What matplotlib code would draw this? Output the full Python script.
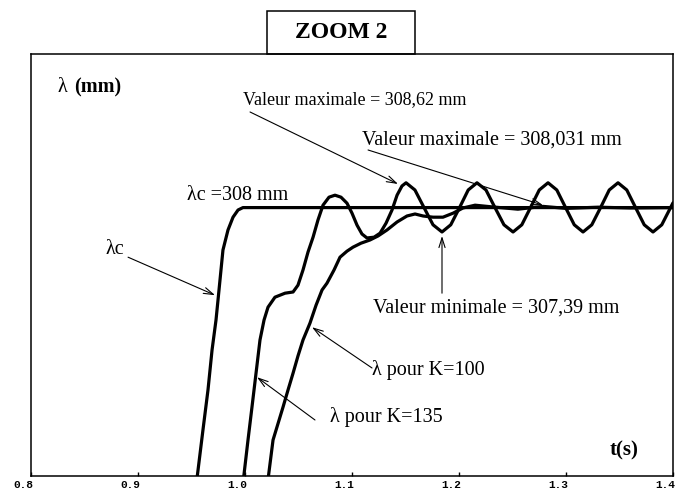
import matplotlib
matplotlib.use("Agg")
import matplotlib.pyplot as plt
import matplotlib.transforms as mtransforms
from matplotlib.patches import Rectangle

# consigne lambda_c
t_c = [0.955, 0.9607, 0.9654, 0.9692, 0.9729, 0.9757, 0.9794, 0.9841, 0.9888, 0.9935, 0.9981, 1.40]
lam_c = [301.2, 302.44, 303.44, 304.44, 305.19, 305.94, 306.94, 307.44, 307.76, 307.94, 308.0, 308.0]

# reponse pour K=135 (oscillante)
t_135 = [0.9985, 1.0028, 1.0065, 1.0103, 1.0140, 1.0178, 1.0215, 1.0280, 1.0374, 1.0449,
         1.0495, 1.0542, 1.0589, 1.0636, 1.0682, 1.0729, 1.0785, 1.0841, 1.0897, 1.0953,
         1.1000, 1.1047, 1.1093, 1.1140, 1.1206, 1.1262, 1.1318, 1.1374, 1.1421, 1.1467,
         1.1505, 1.1588, 1.1673, 1.1757, 1.1841, 1.1923, 1.2005, 1.2086, 1.2168, 1.2252,
         1.2336, 1.2420, 1.2505, 1.2587, 1.2668, 1.2750, 1.2832, 1.2914, 1.2996, 1.3077,
         1.3159, 1.3241, 1.3323, 1.3404, 1.3486, 1.3568, 1.3650, 1.3731, 1.3813, 1.3895,
         1.3977, 1.4000]
lam_135 = [301.2, 302.19, 303.01, 303.86, 304.69, 305.19, 305.51, 305.76, 305.86, 305.89,
           306.06, 306.44, 306.89, 307.26, 307.69, 308.06, 308.26, 308.31, 308.26, 308.11,
           307.86, 307.56, 307.34, 307.24, 307.26, 307.36, 307.61, 307.94, 308.31, 308.54,
           308.62, 308.44, 308.00, 307.57, 307.39, 307.57, 308.00, 308.44, 308.62, 308.44,
           308.00, 307.57, 307.39, 307.57, 308.00, 308.44, 308.62, 308.44, 308.00, 307.57,
           307.39, 307.57, 308.00, 308.44, 308.62, 308.44, 308.00, 307.57, 307.39, 307.57,
           308.00, 308.12]

# reponse pour K=100
t_100 = [1.0215, 1.0262, 1.0355, 1.0402, 1.0449, 1.0495, 1.0542, 1.0607, 1.0664, 1.0720,
         1.0766, 1.0832, 1.0888, 1.0953, 1.1009, 1.1084, 1.1168, 1.1243, 1.1327, 1.1421,
         1.1514, 1.1589, 1.1664, 1.1757, 1.1850, 1.1944, 1.2037, 1.2150, 1.2300, 1.2550,
         1.2785, 1.3000, 1.3300, 1.3600, 1.4000]
lam_100 = [301.2, 302.19, 303.01, 303.44, 303.86, 304.29, 304.69, 305.11, 305.56, 305.94,
           306.11, 306.44, 306.76, 306.91, 307.01, 307.11, 307.19, 307.29, 307.44, 307.64,
           307.79, 307.84, 307.79, 307.76, 307.76, 307.86, 307.99, 308.06, 308.02, 307.96,
           308.03, 307.98, 308.01, 307.99, 308.00]

xticks = [0.8, 0.9, 1.0, 1.1, 1.2, 1.3, 1.4]

serif = "Liberation Serif"

fig = plt.figure(figsize=(6.89, 4.93), dpi=100)
ax = fig.add_axes([0.045, 0.0345, 0.9318, 0.856])

for t, lam in [(t_c, lam_c), (t_135, lam_135), (t_100, lam_100)]:
    ax.plot(t, lam, color="black", linewidth=2.3, solid_joinstyle="round", solid_capstyle="round")

ax.set_xlim(0.8, 1.4)
ax.set_ylim(301.29, 311.84)
ax.set_yticks([])
ax.set_xticks(xticks)
ax.set_xticklabels([f"{v:.1f}" for v in xticks], family="Liberation Mono", fontweight="bold", fontsize=8)
ax.tick_params(axis="x", direction="in", length=3, width=1, pad=3)
shift = mtransforms.ScaledTranslation(-8 / 100, 0, fig.dpi_scale_trans)
for lbl in ax.get_xticklabels():
    lbl.set_transform(lbl.get_transform() + shift)
for sp in ax.spines.values():
    sp.set_linewidth(1.1)

# boite de titre
fig.patches.append(Rectangle((0.3875, 0.8905), 0.2148, 0.0872, transform=fig.transFigure,
                             fill=False, edgecolor="black", linewidth=1.1))
fig.text(0.495, 0.935, "ZOOM 2", family=serif, fontweight="bold", fontsize=17, ha="center", va="center")

# axes labels
ax.text(0.8243, 310.99, "λ", family=serif, fontsize=14.5, va="center")
ax.text(0.8400, 310.99, "(mm)", family=serif, fontweight="bold", fontsize=14.5, va="center")
ax.text(1.3411, 301.94, "t(s)", family=serif, fontweight="bold", fontsize=15, va="center")

arrow = dict(arrowstyle="->,head_length=0.7,head_width=0.22", color="black", linewidth=0.8,
             shrinkA=0, shrinkB=0)

notes = [
    ("Valeur maximale = 308,62 mm", (0.9981, 310.69), 13, (1.0047, 310.39), (1.1430, 308.59)),
    ("Valeur maximale = 308,031 mm", (1.1093, 309.69), 14.5, (1.1150, 309.44), (1.2785, 308.06)),
    ("Valeur minimale = 307,39 mm", (1.1196, 305.49), 14.5, (1.1841, 305.86), (1.1841, 307.29)),
    ("λ pour K=100", (1.1187, 303.94), 14.5, (1.1187, 303.99), (1.0626, 305.01)),
    ("λ pour K=135", (1.0794, 302.76), 14.5, (1.0654, 302.69), (1.0112, 303.76)),
    ("λc", (0.8692, 306.94), 14.5, (0.8907, 306.76), (0.9720, 305.81)),
]
for txt, pos, fs, tail, tip in notes:
    ax.text(pos[0], pos[1], txt, family=serif, fontsize=fs, va="center")
    ax.annotate("", xy=tip, xytext=tail, arrowprops=arrow)

ax.text(0.9458, 308.31, "λc =308 mm", family=serif, fontsize=14.5, va="center")

fig.savefig("out.png", dpi=100)
